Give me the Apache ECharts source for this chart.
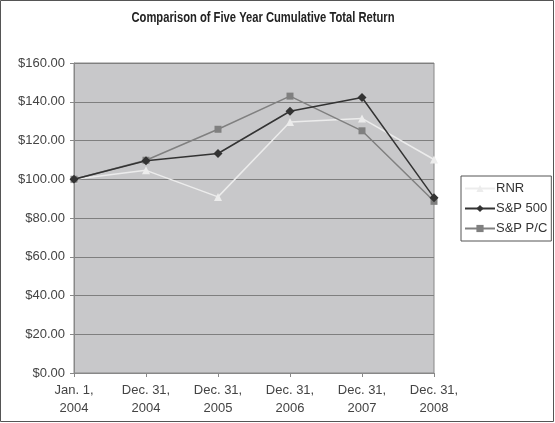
<!DOCTYPE html>
<html><head><meta charset="utf-8">
<script src="https://cdn.jsdelivr.net/npm/echarts@6/dist/echarts.min.js"></script>
<style>html,body{margin:0;padding:0;background:#fff}#c{width:555px;height:423px}</style>
</head><body><div id="c"></div>
<script>
var titleText = 'Comparison of Five Year Cumulative Total Return';
var categories = ['Jan. 1,\n2004','Dec. 31,\n2004','Dec. 31,\n2005','Dec. 31,\n2006','Dec. 31,\n2007','Dec. 31,\n2008'];
var rnr = [100, 104.6, 90.9, 129.5, 131.4, 110.2];
var sp500 = [100, 109.5, 113.3, 135.1, 142.2, 90.5];
var sppc = [100, 109.8, 125.8, 142.9, 125.0, 88.6];
var yTicks = {min: 0, max: 160, interval: 20};

var chart = echarts.init(document.getElementById('c'));
var font = "'Liberation Sans', Arial, sans-serif";
chart.setOption({
  animation: false,
  backgroundColor: '#fff',
  graphic: [{
    type: 'rect', shape: {x: 0.5, y: 0.5, width: 553, height: 421},
    style: {fill: 'none', stroke: '#555', lineWidth: 1}, silent: true, z: 100
  }, {
    type: 'text', x: 263, y: 18, scaleX: 0.8, originX: 0,
    style: {text: titleText, x: 0, y: 0, align: 'center', verticalAlign: 'middle',
      font: "bold 14px 'Liberation Sans', Arial, sans-serif", fill: '#222'},
    silent: true
  }],
  legend: {
    orient: 'vertical', left: 461, top: 176,
    width: 89,
    borderColor: '#555', borderWidth: 1, padding: [6, 4, 6, 3],
    itemGap: 7, itemWidth: 30, itemHeight: 9,
    textStyle: {fontFamily: font, fontSize: 13, color: '#333', padding: [0,0,0,-4]},
    data: ['RNR', 'S&P 500', 'S&P P/C']
  },
  grid: {left: 74, top: 63, right: 121, bottom: 50, show: true, backgroundColor: '#c8c8ca', borderColor: '#888', borderWidth: 1},
  xAxis: {
    type: 'category', data: categories, boundaryGap: false,
    axisLine: {lineStyle: {color: '#888'}},
    axisTick: {show: true, alignWithLabel: true, length: 4, lineStyle: {color: '#888'}},
    axisLabel: {fontFamily: font, fontSize: 13, color: '#444', lineHeight: 18, margin: 8, interval: 0},
    splitLine: {show: false}
  },
  yAxis: {
    type: 'value', min: yTicks.min, max: yTicks.max, interval: yTicks.interval,
    axisLine: {show: true, lineStyle: {color: '#888'}},
    axisTick: {show: true, length: 4, lineStyle: {color: '#888'}},
    axisLabel: {fontFamily: font, fontSize: 13, color: '#444', margin: 9, formatter: function(v){return '$' + v.toFixed(2);}},
    splitLine: {show: true, lineStyle: {color: '#7f7f7f', width: 1}}
  },
  series: [
    {name: 'RNR', type: 'line', data: rnr, symbol: 'triangle', symbolSize: 8,
     lineStyle: {color: '#ececec', width: 1.5}, itemStyle: {color: '#ececec'}, z: 3},
    {name: 'S&P 500', type: 'line', data: sp500, symbol: 'diamond', symbolSize: 9,
     lineStyle: {color: '#333', width: 1.5}, itemStyle: {color: '#333'}, z: 5},
    {name: 'S&P P/C', type: 'line', data: sppc, symbol: 'rect', symbolSize: 7,
     lineStyle: {color: '#808080', width: 1.5}, itemStyle: {color: '#808080'}, z: 4}
  ]
});
</script></body></html>
